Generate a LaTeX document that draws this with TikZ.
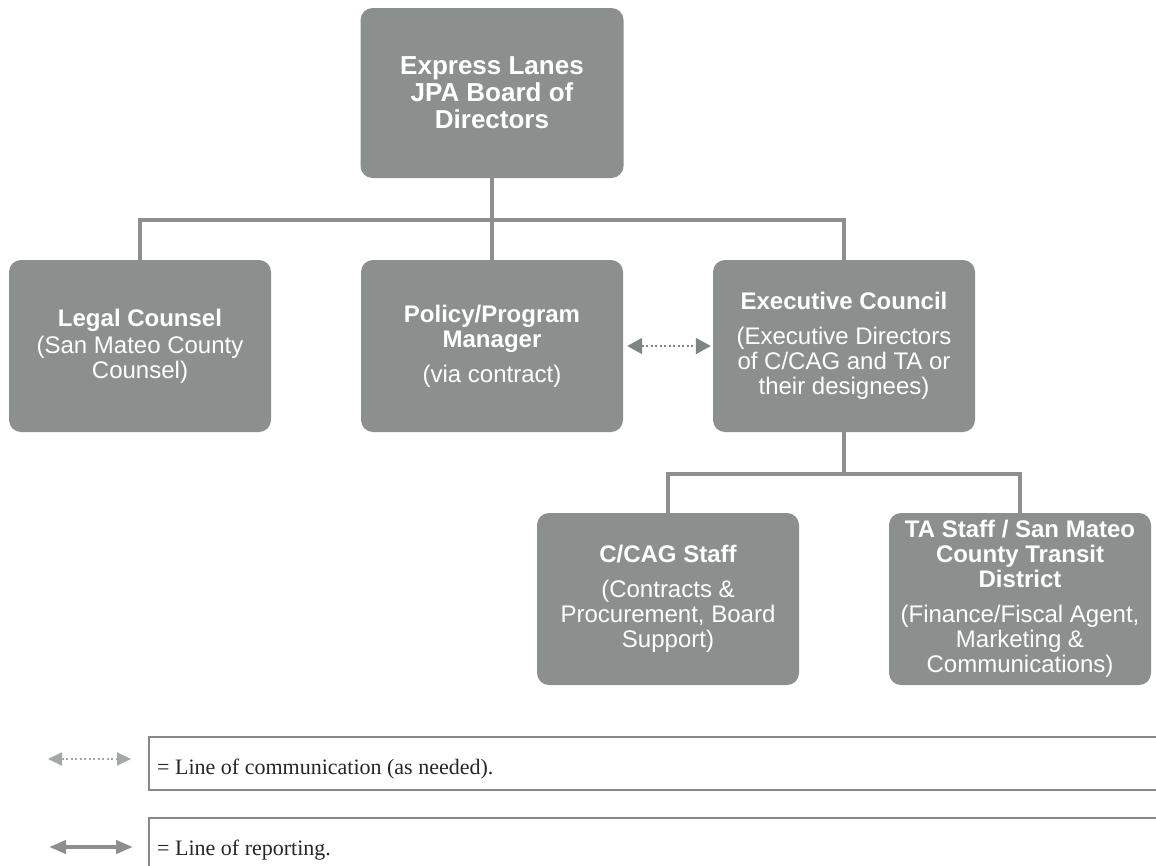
\documentclass[tikz,border=0pt]{standalone}
\usepackage{fontspec}
\setmainfont{Liberation Serif}
\setsansfont{Liberation Sans}
\usetikzlibrary{trees,arrows.meta}
\definecolor{boxgrey}{RGB}{139,144,143}
\definecolor{linkgrey}{RGB}{126,134,131}
\definecolor{keygrey}{RGB}{162,168,166}
\definecolor{rulegrey}{RGB}{135,137,137}

\begin{document}
\begin{tikzpicture}[
  orgbox/.style={rectangle, rounded corners=12pt, fill=boxgrey, text=white,
    minimum width=262pt, minimum height=172pt, inner sep=3pt, align=center,
    font=\sffamily\fontsize{24}{25}\selectfont},
  keytext/.style={font=\rmfamily\fontsize{22}{24}\selectfont, text=black!85,
    inner sep=0pt},
  commarrow/.style={line width=2pt, dash pattern=on 2pt off 2.5pt,
    {Triangle[length=15pt,width=16pt]}-{Triangle[length=15pt,width=16pt]}},
  reportarrow/.style={line width=4pt,
    {Triangle[length=17pt,width=13pt]}-{Triangle[length=17pt,width=13pt]}},
  level distance=253pt, sibling distance=352pt,
  edge from parent/.style={draw=boxgrey, line width=4pt},
  edge from parent path={(\tikzparentnode.south) -- +(0pt,-42pt)
    -| (\tikzchildnode.north)},
  every child node/.style={orgbox}]
  \useasboundingbox (0pt,0pt) rectangle (1156pt,-865pt);

  % org chart
  \node[orgbox, minimum width=263pt, minimum height=170pt,
    font=\sffamily\bfseries\fontsize{26}{27}\selectfont] (board) at (492pt,-93pt)
    {Express Lanes\\JPA Board of\\Directors}
  child {
    node (legal) {\textbf{Legal Counsel}\\[2pt](San Mateo County\\Counsel)}
  }
  child {
    node (manager) {\textbf{Policy/Program}\\\textbf{Manager}\\[10pt](via contract)}
  }
  child {
    node (council) {\textbf{Executive Council}\\[10pt](Executive Directors\\of C/CAG and TA or\\their designees)}
    child {
      node (ccag) {\textbf{C/CAG Staff}\\[10pt](Contracts \&\\Procurement, Board\\Support)}
    }
    child {
      node (tastaff) {\textbf{TA Staff / San Mateo}\\\textbf{County Transit}\\\textbf{District}\\[10pt](Finance/Fiscal Agent,\\Marketing \&\\Communications)}
    }
  };

  \draw[commarrow, linkgrey, shorten <=4pt, shorten >=2pt] (manager.east) -- (council.west);

  % legend
  \coordinate (commL) at (48pt,-759pt);
  \coordinate (commR) at (131pt,-759pt);
  \coordinate (repL) at (49pt,-847pt);
  \coordinate (repR) at (133pt,-847pt);
  \draw[commarrow, keygrey,
    {Triangle[length=14pt,width=13pt]}-{Triangle[length=14pt,width=13pt]}]
    (commL) -- (commR);
  \draw[reportarrow, boxgrey] (repL) -- (repR);
  \draw[rulegrey, line width=1.5pt] (1160pt,-737pt) -| (149pt,-790pt) -- (1160pt,-790pt);
  \draw[rulegrey, line width=1.5pt] (1160pt,-818pt) -| (149pt,-870pt);
  \node[keytext, anchor=base west] (commkey) at (157pt,-774pt)
    {= Line of communication (as needed).};
  \node[keytext, anchor=base west] (repkey) at (157pt,-855pt)
    {= Line of reporting.};
\end{tikzpicture}
\end{document}
